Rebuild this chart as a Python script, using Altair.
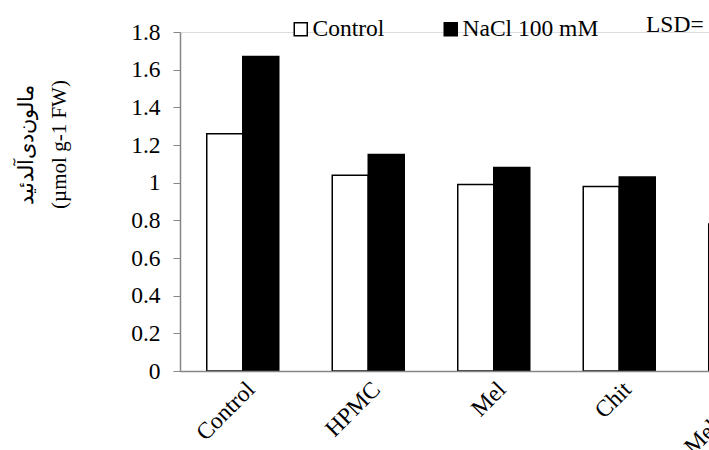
import altair as alt
import pandas as pd

# ---- data ----
categories = ["Control", "HPMC", "Mel", "Chit", "Mel+Chit"]
series_names = ["Control", "NaCl 100 mM"]
control_values = [1.26, 1.04, 0.99, 0.98, 0.78]
nacl_values = [1.67, 1.15, 1.08, 1.03, None]
y_ticks = [0, 0.2, 0.4, 0.6, 0.8, 1.0, 1.2, 1.4, 1.6, 1.8]
y_title = ["مالون\u200cدی\u200cآلدئید", "(µmol g-1 FW)"]
lsd_text = "LSD="

rows = []
for cat, val in zip(categories, control_values):
    rows.append({"treatment": cat, "series": series_names[0], "value": val})
for cat, val in zip(categories, nacl_values):
    if val is not None:
        rows.append({"treatment": cat, "series": series_names[1], "value": val})
df = pd.DataFrame(rows)

FONT = "Liberation Serif"
GRAY = "#868686"
FS = 23.5

chart = alt.Chart(df).mark_bar(stroke="black", strokeWidth=1.5, clip=True).encode(
    x=alt.X(
        "treatment:N",
        sort=categories,
        scale=alt.Scale(domain=categories, range=[0, 627.5], paddingInner=0, paddingOuter=0),
        axis=alt.Axis(
            title=None, labelAngle=315, labelAlign="right", labelBaseline="top",
            ticks=False, labelPadding=6, labelFont=FONT, labelFontSize=FS,
            labelColor="black", domainColor=GRAY, domainWidth=1.5, grid=False, zindex=1,
        ),
    ),
    xOffset=alt.XOffset(
        "series:N", sort=series_names,
        scale=alt.Scale(domain=series_names, paddingInner=0, paddingOuter=0.743),
    ),
    y=alt.Y(
        "value:Q",
        scale=alt.Scale(domain=[0, 1.8], nice=False, zero=True),
        axis=alt.Axis(
            values=y_ticks, format="~g", title=y_title, titleAngle=270,
            titleX=-154, titleY=112, titleAlign="center", titleBaseline="middle",
            titleFont=FONT, titleFontSize=21, titleFontWeight="normal",
            titleLineHeight=33, titleColor="black",
            labelFont=FONT, labelFontSize=FS, labelColor="black", labelPadding=13,
            tickSize=7, tickColor=GRAY, domainColor=GRAY, domainWidth=1.5, grid=False,
        ),
    ),
    color=alt.Color(
        "series:N", sort=series_names,
        scale=alt.Scale(domain=series_names, range=["white", "black"]),
        legend=alt.Legend(
            title=None, orient="none", legendX=109, legendY=-15, direction="horizontal",
            symbolType="square", symbolSize=169, symbolStrokeColor="black",
            symbolStrokeWidth=1.5, labelFont=FONT, labelFontSize=FS, labelColor="black",
            labelOffset=0, columnPadding=54, padding=0,
        ),
    ),
).properties(
    width=529,
    height=339,
    autosize=alt.AutoSizeParams(type="none"),
    padding={"left": 180, "top": 32, "right": 0, "bottom": 79},
    title=alt.TitleParams(
        lsd_text, anchor="start", frame="group", dx=466, offset=-19,
        font=FONT, fontSize=FS, fontWeight="normal", color="black",
    ),
).configure_view(stroke=None).configure(background="white")

chart.save("out.html", embed_options={"renderer": "svg", "actions": False})
